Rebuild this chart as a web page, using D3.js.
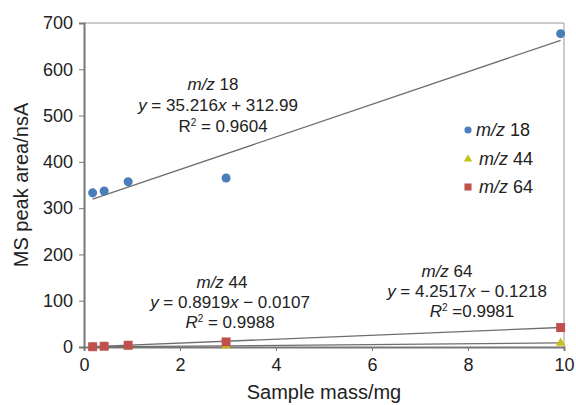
<!doctype html>
<html lang="en">
<head>
<meta charset="utf-8">
<title>MS peak area vs sample mass</title>
<style>
  body { margin: 0; background: #fff; }
  svg text { font-family: "Liberation Sans", Arial, sans-serif; fill: #222; }
</style>
</head>
<body>
<script src="https://cdn.jsdelivr.net/npm/d3@7/dist/d3.min.js"></script>
<script>

// sample masses (mg)
const masses = [0.18, 0.42, 0.92, 2.96, 9.93];

// peak areas per ion
const mz18 = [333, 337, 357, 365, 677];
const mz44 = [0.1, 0.3, 0.8, 2.7, 8.8];
const mz64 = [0.6, 1.6, 3.8, 11, 42];

// linear fits printed on the chart
const slopes     = [35.216, 0.8919, 4.2517];
const intercepts = [312.99, -0.0107, -0.1218];

const seriesNames = ["18", "44", "64"];
const xTicks = [0, 2, 4, 6, 8, 10];
const yTicks = [0, 100, 200, 300, 400, 500, 600, 700];

const width = 576, height = 405;
const margin = {top: 23, right: 12, bottom: 58, left: 84};

const svg = d3.select('body').append('svg')
    .attr('width', width)
    .attr('height', height);

const x = d3.scaleLinear().domain([0, 10]).range([margin.left, width - margin.right]);
const y = d3.scaleLinear().domain([0, 700]).range([height - margin.bottom, margin.top]);

const colors = ["#4a7ebb", "#c6c01c", "#c0504d"];
const allSeries = [mz18, mz44, mz64];

// frame: top and right borders
svg.append('path')
  .attr('d', `M${x(0)},${y(700)}H${x(10)}V${y(0)}`)
  .attr('fill', 'none')
  .attr('stroke', '#999')
  .attr('stroke-width', 1);

// axes
const xAxis = svg.append('g')
  .attr('transform', `translate(0,${y(0)})`)
  .call(d3.axisBottom(x).tickValues(xTicks).tickSize(4).tickPadding(7));

const yAxis = svg.append('g')
  .attr('transform', `translate(${x(0)},0)`)
  .call(d3.axisLeft(y).tickValues(yTicks).tickSize(5).tickPadding(6));

[xAxis, yAxis].forEach(function(a){
  a.select('.domain').attr('stroke', '#777').attr('stroke-width', 2);
  a.selectAll('.tick line').attr('stroke', '#777');
  a.selectAll('.tick text').style('font-size', '18px').attr('fill', '#222');
});

// trend lines
slopes.forEach(function(m, i){
  const x0 = masses[0], x1 = masses[masses.length - 1];
  svg.append('line')
    .attr('x1', x(x0)).attr('y1', y(m * x0 + intercepts[i]))
    .attr('x2', x(x1)).attr('y2', y(m * x1 + intercepts[i]))
    .attr('stroke', '#6e6e6e')
    .attr('stroke-width', 1.3);
});

// markers
function marker(g, type, size, color){
  const sym = type === 0 ? d3.symbolCircle : type === 1 ? d3.symbolTriangle : d3.symbolSquare;
  g.append('path')
    .attr('d', d3.symbol().type(sym).size(size))
    .attr('fill', color);
}

const sizes = [64, 40, 80];
[1, 2, 0].forEach(function(i){
  allSeries[i].forEach(function(v, j){
    const g = svg.append('g').attr('transform', `translate(${x(masses[j])},${y(v)})`);
    marker(g, i, sizes[i], colors[i]);
  });
});

// legend
const legend = svg.append('g');
const legendY = [130, 159, 187];
seriesNames.forEach(function(n, i){
  const g = legend.append('g').attr('transform', `translate(468,${legendY[i]})`);
  marker(g, i, [40, 30, 50][i], colors[i]);
  const t = g.append('text')
    .attr('x', i === 0 ? 8 : 11)
    .attr('y', 6)
    .style('font-size', '18px');
  t.append('tspan').style('font-style', 'italic').text('m/z');
  t.append('tspan').text(' ' + n);
});

// equation annotations
function annotate(lines){
  lines.forEach(function(l){
    const t = svg.append('text')
      .attr('x', l.x)
      .attr('y', l.y)
      .attr('text-anchor', 'middle')
      .style('font-size', '17px');
    l.parts.forEach(function(p){
      const s = t.append('tspan').text(p.t);
      if (p.i) s.style('font-style', 'italic');
      if (p.sup) s.attr('dy', -6).style('font-size', '10px');
      if (p.after) s.attr('dy', 6);
    });
  });
}

annotate([
  {x: 213, y: 90,  parts: [{t: 'm/z', i: true}, {t: ' 18'}]},
  {x: 218, y: 111, parts: [{t: 'y', i: true}, {t: ' = 35.216'}, {t: 'x', i: true}, {t: ' + 312.99'}]},
  {x: 223, y: 132, parts: [{t: 'R'}, {t: '2', sup: true}, {t: ' = 0.9604', after: true}]},

  {x: 222, y: 288, parts: [{t: 'm/z', i: true}, {t: '  44'}]},
  {x: 230, y: 308, parts: [{t: 'y', i: true}, {t: ' = 0.8919'}, {t: 'x', i: true}, {t: ' − 0.0107'}]},
  {x: 230, y: 328, parts: [{t: 'R', i: true}, {t: '2', sup: true}, {t: ' = 0.9988', after: true}]},

  {x: 447, y: 277, parts: [{t: 'm/z', i: true}, {t: '  64'}]},
  {x: 467, y: 297, parts: [{t: 'y', i: true}, {t: ' = 4.2517'}, {t: 'x', i: true}, {t: ' − 0.1218'}]},
  {x: 472, y: 317, parts: [{t: 'R', i: true}, {t: '2', sup: true}, {t: ' =0.9981', after: true}]}
]);

// axis titles
svg.append('text')
  .attr('x', x(5))
  .attr('y', 399)
  .attr('text-anchor', 'middle')
  .style('font-size', '20px')
  .text('Sample mass/mg');

svg.append('text')
  .attr('transform', `translate(28,${(y(0) + y(700)) / 2}) rotate(-90)`)
  .attr('text-anchor', 'middle')
  .style('font-size', '20px')
  .text('MS peak area/nsA');

</script>
</body>
</html>
